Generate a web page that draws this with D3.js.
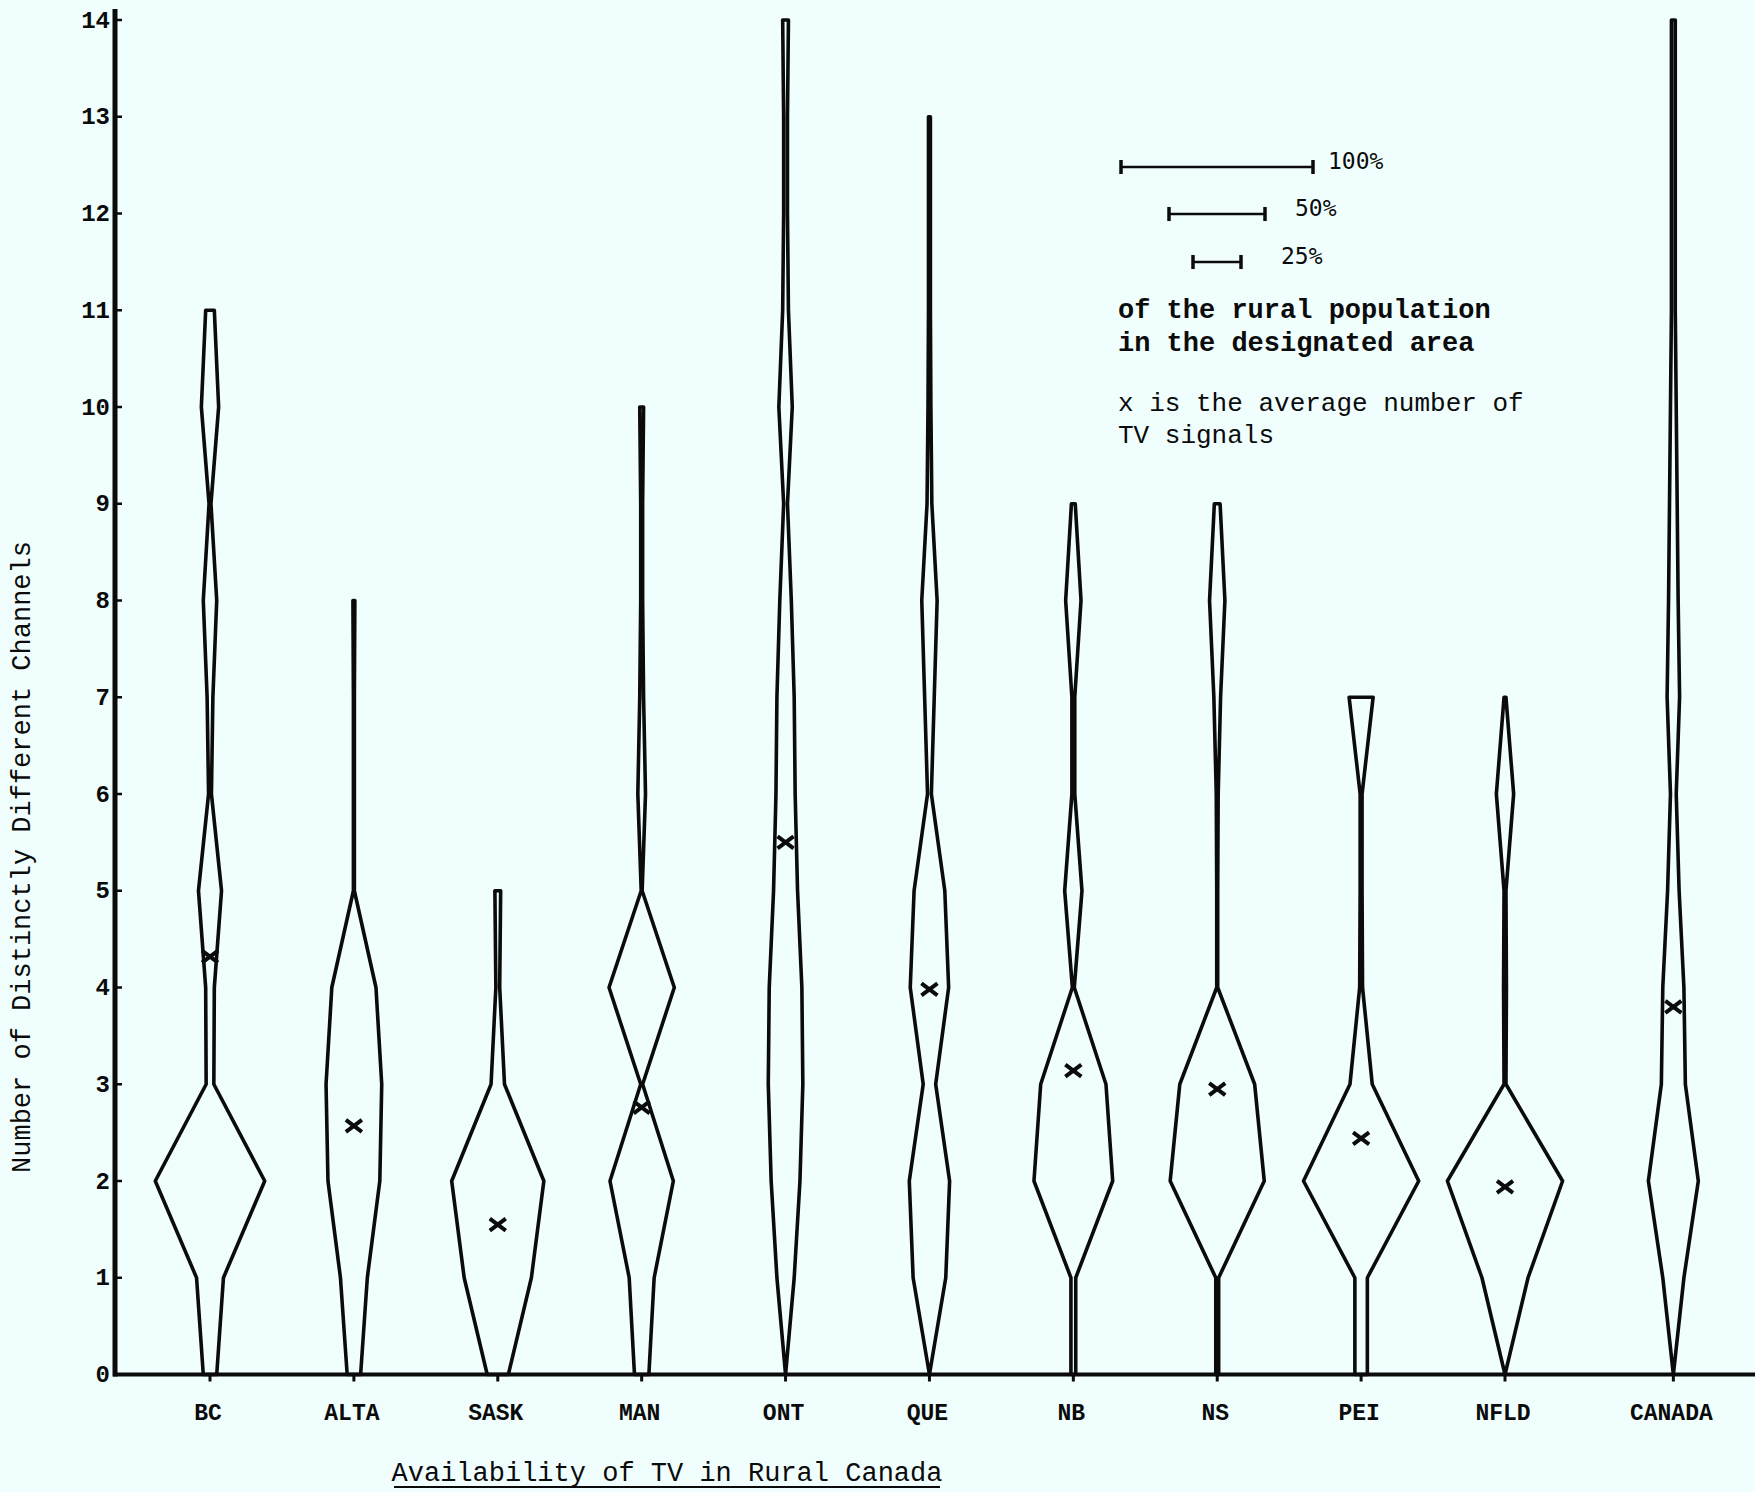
<!DOCTYPE html>
<html>
<head>
<meta charset="utf-8">
<script src="https://cdn.jsdelivr.net/npm/d3@7"></script>
<style>
  html, body { margin: 0; padding: 0; background: #f0fffe; }
  svg { display: block; }
</style>
</head>
<body>
<div id="chart"></div>
<script>
// categories along the x axis
const categories = ["BC", "ALTA", "SASK", "MAN", "ONT", "QUE", "NB", "NS", "PEI", "NFLD", "CANADA"];

// % of rural population receiving k channels, k = 0, 1, 2, ...
const bcShare     = [7, 14, 57, 4, 4.5, 12, 1.5, 3, 7, 1, 9, 4.5];
const altaShare   = [7, 14, 27, 29, 23, 0.5, 0.5, 0.5, 1];
const saskShare   = [11, 35, 48, 7, 2, 3];
const manShare    = [7.5, 13, 33, 1, 34, 0.5, 4, 2, 1, 1, 2];
const ontShare    = [0, 9, 15, 18, 17, 12.5, 10, 9, 6, 2, 7, 3, 2, 2, 3];
const queShare    = [0, 17, 21, 6.5, 20, 16, 2, 5, 8, 2.5, 1.5, 1, 1, 1];
const nbShare     = [2.5, 2.5, 41, 34, 1, 9, 1.5, 1.5, 8, 2];
const nsShare     = [1.5, 1.5, 49, 39, 0.5, 0.5, 1, 3.5, 8, 3];
const peiShare    = [6.5, 6.5, 60, 11.6, 1.5, 1, 1, 12.5];
const nfldShare   = [0, 24, 60, 1, 1.5, 1, 9, 1];
const canadaShare = [0, 11, 26, 12.5, 11, 6, 3, 6.5, 5, 4, 3, 2, 2, 2, 2];

// average number of TV signals (the "x" marks)
const means = [4.32, 2.57, 1.55, 2.76, 5.5, 3.98, 3.14, 2.95, 2.44, 1.94, 3.8];

const yTicks = d3.range(0, 15);
const legendShares = [100, 50, 25];

const shares = [bcShare, altaShare, saskShare, manShare, ontShare, queShare,
                nbShare, nsShare, peiShare, nfldShare, canadaShare];

const width = 1755, height = 1492;
const ink = "#0b0b0b";
const mono = "'Liberation Mono', 'Courier New', monospace";

const svg = d3.select("#chart").append("svg")
    .attr("width", width)
    .attr("height", height)
    .style("background", "#f0fffe");

const y = d3.scaleLinear().domain([0, 14]).range([1374.5, 20]);

// provinces are evenly spaced, CANADA stands a bit further out
const xi = d3.scaleLinear().domain([0, 9]).range([210, 1505]);
const x = i => xi(i < 10 ? i : i + 0.17);

// 100% of the rural population = 192px of width
const w = d3.scaleLinear().domain([0, 100]).range([0, 192]);

// kites
categories.forEach((c, i) => {
    const cx = x(i);
    const pts = shares[i].map((v, k) => ({k, v}));
    const area = d3.area()
        .y(d => y(d.k))
        .x0(d => cx - w(d.v) / 2)
        .x1(d => cx + w(d.v) / 2);
    svg.append("path")
        .attr("d", area(pts))
        .attr("fill", "none")
        .attr("stroke", ink)
        .attr("stroke-width", 3.6)
        .attr("stroke-linejoin", "round");

    // mean mark
    const my = y(means[i]);
    svg.append("path")
        .attr("d", `M${cx - 8},${my - 6}L${cx + 8},${my + 6}M${cx - 8},${my + 6}L${cx + 8},${my - 6}`)
        .attr("stroke", ink)
        .attr("stroke-width", 4)
        .attr("fill", "none");
});

// y axis
svg.append("line")
    .attr("x1", 115).attr("x2", 115)
    .attr("y1", 9).attr("y2", y(0) + 2)
    .attr("stroke", ink).attr("stroke-width", 5);

const yt = svg.append("g").selectAll("g").data(yTicks).join("g")
    .attr("transform", d => `translate(0,${y(d)})`);
yt.append("line")
    .attr("x1", 115).attr("x2", 122)
    .attr("stroke", ink).attr("stroke-width", 2.5);
yt.append("text")
    .attr("x", 110)
    .attr("dy", "0.32em")
    .attr("text-anchor", "end")
    .attr("font-family", mono)
    .attr("font-weight", "bold")
    .attr("font-size", 24)
    .attr("fill", ink)
    .text(d => d);

// x axis
svg.append("line")
    .attr("x1", 113).attr("x2", width)
    .attr("y1", y(0)).attr("y2", y(0))
    .attr("stroke", ink).attr("stroke-width", 4);

const xt = svg.append("g").selectAll("g").data(categories).join("g")
    .attr("transform", (d, i) => `translate(${x(i)},${y(0)})`);
xt.append("line")
    .attr("y1", 0).attr("y2", 7)
    .attr("stroke", ink).attr("stroke-width", 3);
xt.append("text")
    .attr("x", -2)
    .attr("y", 45)
    .attr("text-anchor", "middle")
    .attr("font-family", mono)
    .attr("font-weight", "bold")
    .attr("font-size", 23)
    .attr("fill", ink)
    .text(d => d);

// axis titles
svg.append("text")
    .attr("transform", `translate(30,857) rotate(-90)`)
    .attr("text-anchor", "middle")
    .attr("font-family", mono)
    .attr("font-size", 27)
    .attr("fill", ink)
    .text("Number of Distinctly Different Channels");

svg.append("text")
    .attr("x", 667).attr("y", 1481)
    .attr("text-anchor", "middle")
    .attr("font-family", mono)
    .attr("font-size", 27)
    .attr("fill", ink)
    .text("Availability of TV in Rural Canada");
svg.append("line")
    .attr("x1", 394).attr("x2", 940)
    .attr("y1", 1487).attr("y2", 1487)
    .attr("stroke", ink).attr("stroke-width", 2);

// legend
const legendCx = 1217;
const legendY = [167, 214, 262];
const legendGap = [15, 30, 40];
legendShares.forEach((p, i) => {
    const half = w(p) / 2, ly = legendY[i];
    const g = svg.append("g");
    g.append("line")
        .attr("x1", legendCx - half).attr("x2", legendCx + half)
        .attr("y1", ly).attr("y2", ly)
        .attr("stroke", ink).attr("stroke-width", 2.5);
    [legendCx - half, legendCx + half].forEach(ex => g.append("line")
        .attr("x1", ex).attr("x2", ex)
        .attr("y1", ly - 7).attr("y2", ly + 7)
        .attr("stroke", ink).attr("stroke-width", 3.5));
    g.append("text")
        .attr("x", legendCx + half + legendGap[i])
        .attr("y", ly)
        .attr("dy", "0.1em")
        .attr("font-family", "'DejaVu Sans Mono', monospace")
        .attr("font-size", 23)
        .attr("fill", ink)
        .text(p + "%");
});

const notes = [
    {t: "of the rural population", y: 318, bold: true},
    {t: "in the designated area", y: 351, bold: true},
    {t: "x is the average number of", y: 411, bold: false},
    {t: "TV signals", y: 443, bold: false}
];
svg.append("g").selectAll("text").data(notes).join("text")
    .attr("x", 1118)
    .attr("y", d => d.y)
    .attr("font-family", mono)
    .attr("font-weight", d => d.bold ? "bold" : "normal")
    .attr("font-size", d => d.bold ? 27 : 26)
    .attr("fill", ink)
    .text(d => d.t);
</script>
</body>
</html>
